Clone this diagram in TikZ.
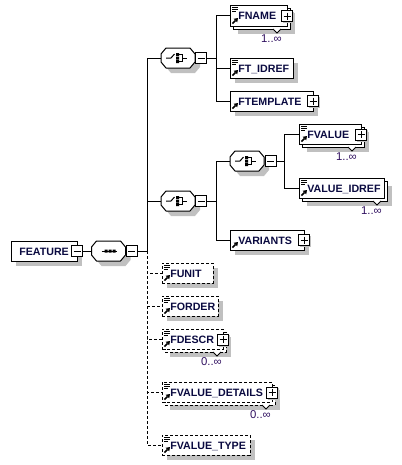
\documentclass[tikz,border=0pt]{standalone}
\usepackage{fontspec}
\setmainfont{Liberation Sans}
\definecolor{shadowgray}{HTML}{C0C0C0}
\definecolor{txtc}{HTML}{0A0A40}
\definecolor{multc}{HTML}{301060}
\tikzset{
  ebx/.style={draw=black, fill=white, line width=0.75pt, inner sep=0pt, outer sep=0pt},
  opt/.style={dash pattern=on 2.25pt off 1.5pt},
  lbl/.style={inner sep=0pt, font=\fontsize{8}{9}\selectfont\bfseries, text=txtc},
  mlbl/.style={inner sep=0pt, font=\fontsize{8.5}{9}\selectfont, text=multc},
  conn/.style={line width=0.75pt},
  pmb/.style={draw=black, fill=white, line width=0.75pt, minimum size=11*0.75pt, inner sep=0pt, outer sep=0pt},
  compn/.style={inner sep=0pt, outer sep=0pt, minimum width=34*0.75pt, minimum height=20*0.75pt},
}
% icons
\newcommand\docicon[2]{%
  \draw[line width=0.75pt] (#1+2,#2+2) -- ++(6,0) (#1+2,#2+4) -- ++(6,0) (#1+2,#2+6) -- ++(4,0);}
\newcommand\refarrow[2]{%
  \draw[line width=1.1pt] (#1+2.5,#2-2.5) -- (#1+5.5,#2-5.5);
  \fill (#1+8,#2-8) -- (#1+3.6,#2-7.2) -- (#1+7.2,#2-3.6) -- cycle;}
% single element box: [style]{name}{x1}{y1}{x2}{y2}{label}
\newcommand\elbox[7][]{%
  \fill[shadowgray] (#3+5,#4+5) rectangle (#5+5,#6+5);
  \node[ebx,#1,minimum width={(#5-#3)*0.75pt},minimum height={(#6-#4)*0.75pt}] (#2) at ({(#3+#5)/2},{(#4+#6)/2}) {};
  \node[lbl,anchor=base west] (#2-t) at (#3+8,{(#4+#6)/2+4}) {#7};
  \refarrow{#3}{#6}}
% multiple element box
\newcommand\multbox[7][]{%
  \fill[shadowgray] (#3+8,#4+8) rectangle (#5+8,#6+8);
  \draw[ebx,#1] (#3+3,#4+3) rectangle (#5+3,#6+3);
  \node[ebx,#1,minimum width={(#5-#3)*0.75pt},minimum height={(#6-#4)*0.75pt}] (#2) at ({(#3+#5)/2},{(#4+#6)/2}) {};
  \node[lbl,anchor=base west] (#2-t) at (#3+8,{(#4+#6)/2+4}) {#7};
  \refarrow{#3}{#6}}
% multiplicity: {name}{tx}{ybottom}{text}
\newcommand\multlabel[4]{%
  \draw[line width=0.75pt, fill=white] (#2-4,#3) -- (#2,#3+4) -- (#2+4,#3);
  \node[mlbl,anchor=base east] (#1) at (#2+5,#3+13.5) {#4};}
\newcommand\plusbox[3]{%
  \fill[shadowgray] (#2-4.5,#3-4.5) rectangle (#2+7,#3+7);
  \node[pmb] (#1) at (#2,#3) {};
  \draw[line width=0.75pt] (#2-3.5,#3) -- (#2+3.5,#3) (#2,#3-3.5) -- (#2,#3+3.5);}
\newcommand\minusbox[3]{%
  \node[pmb] (#1) at (#2,#3) {};
  \draw[line width=0.75pt] (#2-3.5,#3) -- (#2+3.5,#3);}
% compositor outline
\newcommand\octo[3][]{%
  \path[#1] (#2-17,#3-4) -- (#2-12,#3-10) -- (#2+12,#3-10) -- (#2+17,#3-4) -- (#2+17,#3+4) -- (#2+12,#3+10) -- (#2-12,#3+10) -- (#2-17,#3+4) -- cycle;}
\newcommand\choicecomp[3]{%
  \octo[fill=shadowgray]{#2+5}{#3+5}
  \octo[fill=white,draw=black,line width=0.75pt]{#2}{#3}
  \node[compn] (#1) at (#2,#3) {};
  \draw[line width=0.75pt] (#2-12,#3) -- (#2-7,#3) -- (#2-3.5,#3-4);
  \fill (#2-2,#3-5) rectangle (#2+1,#3-2.2) (#2-2,#3-1.5) rectangle (#2+1,#3+1.5) (#2-2,#3+2.2) rectangle (#2+1,#3+5);
  \draw[line width=0.75pt] (#2+1,#3-3.5) -- (#2+4.5,#3-3.5) -- (#2+4.5,#3+3.5) -- (#2+1,#3+3.5) (#2+4.5,#3) -- (#2+9,#3);}
\newcommand\seqcomp[3]{%
  \octo[fill=shadowgray]{#2+5}{#3+5}
  \octo[fill=white,draw=black,line width=0.75pt]{#2}{#3}
  \node[compn] (#1) at (#2,#3) {};
  \draw[line width=0.75pt] (#2-7,#3) -- (#2+8,#3);
  \fill (#2-4,#3-1.5) rectangle (#2-1,#3+1.5) (#2,#3-1.5) rectangle (#2+3,#3+1.5) (#2+4,#3-1.5) rectangle (#2+7,#3+1.5);}
\begin{document}
\begin{tikzpicture}[x=0.75pt,y=-0.75pt]
\useasboundingbox (0,0) rectangle (402,465);
% ---------------- root
\fill[shadowgray] (16,246) rectangle (82,266);
\node[ebx,minimum width=66*0.75pt,minimum height=20*0.75pt] (feature) at (44,251) {};
\node[lbl,anchor=base west] (feature-t) at (19,255) {FEATURE};
\minusbox{featm}{77}{251}
\seqcomp{seq}{108.5}{251}
\minusbox{seqm}{131.5}{251}
% ---------------- choice 1
\choicecomp{ch1}{178}{58}
\minusbox{ch1m}{201}{58}
\multbox{fname}{230}{5}{287}{26}{FNAME}
\docicon{230}{5}
\plusbox{fnamep}{287}{16}
\multlabel{fnamem}{277}{29}{1..∞}
\elbox{ftidref}{230}{58}{293}{78}{FT\_IDREF}
\docicon{230}{58}
\elbox{ftemplate}{230}{91}{313}{111}{FTEMPLATE}
\plusbox{ftemplatep}{313}{101}
% ---------------- choice 2
\choicecomp{ch2}{178}{201}
\minusbox{ch2m}{201}{201}
\choicecomp{ch3}{247}{161}
\minusbox{ch3m}{270.5}{161}
\multbox{fvalue}{299}{124}{361}{144}{FVALUE}
\docicon{299}{124}
\plusbox{fvaluep}{361}{134.5}
\multlabel{fvaluem}{352}{147}{1..∞}
\multbox{valueidref}{299}{178}{384}{198}{VALUE\_IDREF}
\docicon{299}{178}
\multlabel{valueidrefm}{377}{201}{1..∞}
\elbox{variants}{230}{230}{304}{250}{VARIANTS}
\plusbox{variantsp}{304}{240}
% ---------------- optional elements
\elbox[opt]{funit}{162}{263}{213}{283}{FUNIT}
\docicon{162}{263}
\elbox[opt]{forder}{162}{296}{218}{316}{FORDER}
\docicon{162}{296}
\multbox[opt]{fdescr}{162}{329}{223}{349}{FDESCR}
\docicon{162}{329}
\plusbox{fdescrp}{223}{339.5}
\multlabel{fdescrm}{217}{352}{0..∞}
\multbox[opt]{fvdet}{162}{382}{272}{402}{FVALUE\_DETAILS}
\docicon{162}{382}
\plusbox{fvdetp}{272}{392.5}
\multlabel{fvdetm}{266}{405}{0..∞}
\elbox[opt]{fvtype}{162}{435}{250}{455}{FVALUE\_TYPE}
\docicon{162}{435}
% ---------------- connectors
\draw[conn] (featm.east) -- (seq.west);
\draw[conn] (seq.east) -- (seqm.west);
\foreach \n in {funit,forder,fdescr,fvdet,fvtype}
  \draw[conn,opt] (seqm.east) -- ++(10,0) |- (\n.west);
\draw[conn] (seqm.east) -- ++(10,0) |- (ch1.west);
\draw[conn] (seqm.east) -- ++(10,0) |- (ch2.west);
\foreach \n in {fname,ftidref,ftemplate}
  \draw[conn] (ch1m.east) -- ++(10,0) |- (\n.west);
\foreach \n in {ch3,variants}
  \draw[conn] (ch2m.east) -- ++(10,0) |- (\n.west);
\foreach \n in {fvalue,valueidref}
  \draw[conn] (ch3m.east) -- ++(8,0) |- (\n.west);
\end{tikzpicture}
\end{document}
